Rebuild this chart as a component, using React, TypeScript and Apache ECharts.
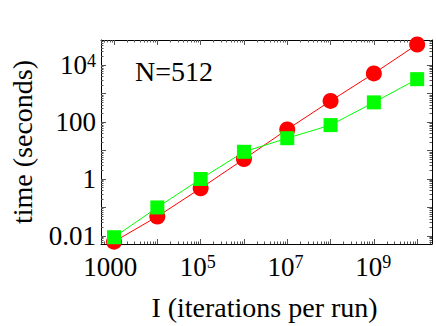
import React, { useEffect, useRef } from "react";
import * as echarts from "echarts";

const iterations = [1e3, 1e4, 1e5, 1e6, 1e7, 1e8, 1e9, 1e10];
const timeRed = [0.0063, 0.048, 0.47, 5, 55, 550, 5100, 53000];
const timeGreen = [0.009, 0.1, 1, 9, 27, 78, 490, 3200];
const xMajorTicks = [1e3, 1e4, 1e5, 1e6, 1e7, 1e8, 1e9, 1e10];
const xLabelValues = [1e3, 1e5, 1e7, 1e9];
const yMajorTicks = [0.01, 0.1, 1, 10, 100, 1000, 1e4];
const yLabelValues = [0.01, 1, 100, 1e4];
const annotation = "N=512";
const xTitle = "I (iterations per run)";
const yTitle = "time (seconds)";

const FONT = "'Liberation Serif', 'Times New Roman', serif";

function minorTicks(lo: number, hi: number): number[] {
  const out: number[] = [];
  for (let e = lo; e <= hi; e++) {
    for (let k = 2; k <= 9; k++) out.push(k * Math.pow(10, e));
  }
  return out;
}

function fmt(v: number): string {
  const e = Math.round(Math.log10(v));
  if (e >= 4) return `{b|10}{s|${e}}`;
  if (e === 3) return "{b|1000}";
  if (e === 2) return "{b|100}";
  if (e === 0) return "{b|1}";
  if (e === -2) return "{b|0.01}";
  return `{b|${v}}`;
}

const rich = {
  b: { fontSize: 27, fontFamily: FONT, color: "#000", lineHeight: 27 },
  s: { fontSize: 18, fontFamily: FONT, color: "#000", lineHeight: 10, verticalAlign: "top" as const },
};

export default function App() {
  const ref = useRef<HTMLDivElement>(null);
  useEffect(() => {
    if (!ref.current) return;
    const chart = echarts.init(ref.current, undefined, { renderer: "svg" });
    const xMin = 500, xMax = 2.2e10, yMin = 0.0052, yMax = 76000;
    const tickStyle = { color: "#555", width: 1 };
    const baseX = (grid: number, pos: "bottom" | "top", ticks: number[] | null, len: number, showLine: boolean, labels: boolean) => ({
      type: "log" as const,
      position: pos,
      min: xMin,
      max: xMax,
      gridIndex: grid,
      axisLine: { show: showLine, lineStyle: { color: "#000", width: 1 } },
      axisTick: ticks
        ? { show: true, inside: true, length: len, customValues: ticks, lineStyle: tickStyle }
        : { show: false },
      axisLabel: labels
        ? { show: true, customValues: xLabelValues, formatter: fmt, rich, margin: 10, fontSize: 27, fontFamily: FONT, color: "#000" }
        : { show: false },
      splitLine: { show: false },
      minorTick: { show: false },
    });
    const baseY = (grid: number, pos: "left" | "right", ticks: number[] | null, len: number, showLine: boolean, labels: boolean) => ({
      type: "log" as const,
      position: pos,
      min: yMin,
      max: yMax,
      gridIndex: grid,
      axisLine: { show: showLine, lineStyle: { color: "#000", width: 1 } },
      axisTick: ticks
        ? { show: true, inside: true, length: len, customValues: ticks, lineStyle: tickStyle }
        : { show: false },
      axisLabel: labels
        ? { show: true, customValues: yLabelValues, formatter: fmt, rich, margin: 5, fontSize: 27, fontFamily: FONT, color: "#000" }
        : { show: false },
      splitLine: { show: false },
      minorTick: { show: false },
    });
    const xAxes: any[] = [
      baseX(0, "bottom", xMajorTicks, 5, true, false),
      baseX(0, "bottom", minorTicks(2, 10), 2.5, false, false),
      baseX(0, "top", xMajorTicks, 5, true, false),
      baseX(0, "top", minorTicks(2, 10), 2.5, false, false),
      {
        ...baseX(1, "bottom", null, 0, false, true),
        name: xTitle,
        nameLocation: "middle",
        nameGap: 50,
        nameTextStyle: { fontSize: 28, fontFamily: FONT, color: "#000" },
      },
    ];
    const yAxes: any[] = [
      {
        ...baseY(0, "left", yMajorTicks, 5, true, true),
        name: yTitle,
        nameLocation: "middle",
        nameGap: 65,
        nameTextStyle: { fontSize: 28, fontFamily: FONT, color: "#000" },
      },
      baseY(0, "left", minorTicks(-3, 4), 2.5, false, false),
      baseY(0, "right", yMajorTicks, 5, true, false),
      baseY(0, "right", minorTicks(-3, 4), 2.5, false, false),
      { ...baseY(1, "left", null, 0, false, false), show: false },
    ];
    const gridRect = { left: 97, right: 4, top: 40, bottom: 82, containLabel: false };
    chart.setOption({
      animation: false,
      backgroundColor: "#fff",
      grid: [gridRect, { ...gridRect }],
      xAxis: xAxes,
      yAxis: yAxes,
      graphic: [
        {
          type: "text",
          left: 135,
          top: 57,
          style: { text: annotation, fontSize: 28, fontFamily: FONT, fill: "#000" },
        },
      ],
      series: [
        {
          type: "line",
          xAxisIndex: 0,
          yAxisIndex: 0,
          data: iterations.map((x, i) => [x, timeRed[i]]),
          symbol: "circle",
          symbolSize: 16,
          itemStyle: { color: "#ff0000" },
          lineStyle: { color: "#ff0000", width: 1 },
          clip: false,
        },
        {
          type: "line",
          xAxisIndex: 0,
          yAxisIndex: 0,
          data: iterations.map((x, i) => [x, timeGreen[i]]),
          symbol: "rect",
          symbolSize: 14,
          itemStyle: { color: "#00ff00" },
          lineStyle: { color: "#00ff00", width: 1 },
          clip: false,
        },
      ],
    });
    return () => chart.dispose();
  }, []);
  return (
    <div
      ref={ref}
      style={{ position: "fixed", left: 0, top: 0, width: 436, height: 326, background: "#fff" }}
    />
  );
}
